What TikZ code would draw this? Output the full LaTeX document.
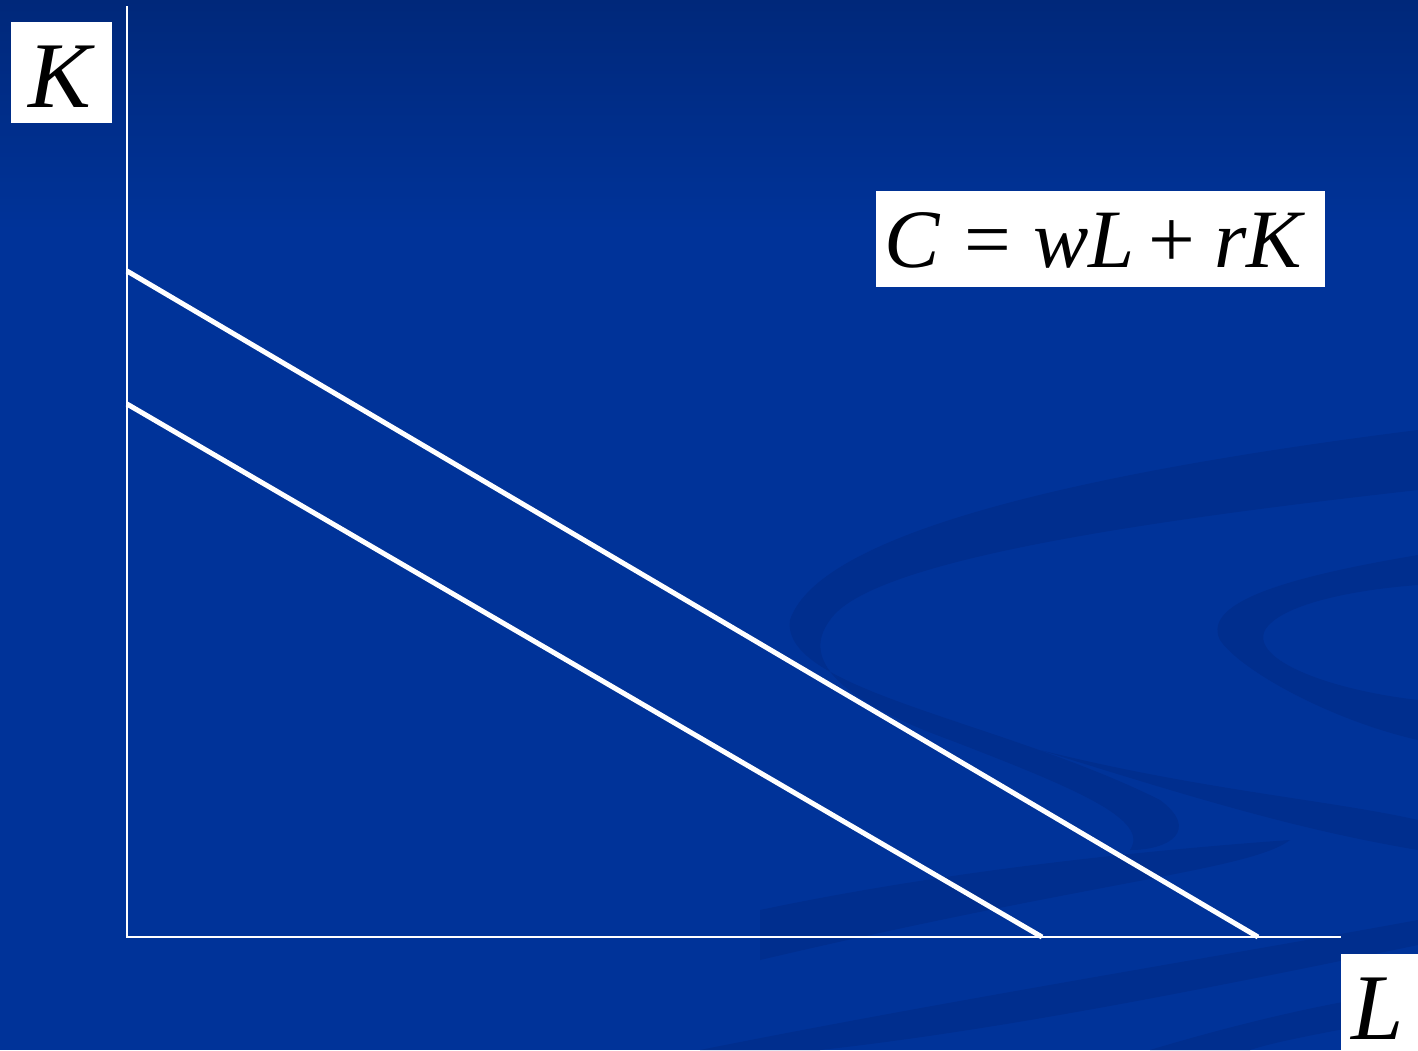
\documentclass[tikz,border=0pt]{standalone}
\usepackage{fontspec}
\setmainfont{Liberation Serif}
\begin{document}
\begin{tikzpicture}[x=1pt,y=-1pt,
  axis/.style={white,line width=2pt},
  budget/.style={white,line width=5pt},
  glyph/.style={text=black,inner sep=0pt,anchor=base west,font=\fontsize{83}{83}\selectfont},
  swirl/.style={fill=swirlblue}]
\definecolor{bgtop}{RGB}{0,40,122}
\definecolor{bgmain}{RGB}{0,51,153}
\definecolor{swirlblue}{RGB}{0,46,142}
% background
\fill[bgmain] (0,0) rectangle (1418,1050);
\shade[top color=bgtop,bottom color=bgmain] (0,0) rectangle (1418,230);
\useasboundingbox (0,0) rectangle (1418,1050);
% faint swirls
\fill[swirl] (1418,430) .. controls (1100,470) and (820,530) .. (790,620)
  .. controls (780,690) and (1000,720) .. (1160,800)
  .. controls (1200,830) and (1170,850) .. (1130,850)
  .. controls (1150,820) and (1080,790) .. (950,740)
  .. controls (840,700) and (800,660) .. (830,620)
  .. controls (870,560) and (1150,520) .. (1418,490) -- cycle;
\fill[swirl] (1418,555) .. controls (1300,575) and (1200,600) .. (1220,640)
  .. controls (1240,670) and (1330,720) .. (1418,740) -- (1418,700)
  .. controls (1330,690) and (1250,660) .. (1265,630)
  .. controls (1280,605) and (1350,590) .. (1418,585) -- cycle;
\fill[swirl] (1040,750) .. controls (1200,790) and (1330,800) .. (1418,820)
  -- (1418,850) .. controls (1300,830) and (1200,800) .. (1040,750) -- cycle;
\fill[swirl] (760,910) .. controls (950,870) and (1150,850) .. (1290,840)
  .. controls (1250,870) and (1100,880) .. (760,960) -- cycle;
\fill[swirl] (700,1050) .. controls (950,1000) and (1200,960) .. (1418,920)
  -- (1418,945) .. controls (1200,990) and (1000,1030) .. (820,1050) -- cycle;
\fill[swirl] (1150,1050) .. controls (1250,1020) and (1340,1000) .. (1418,990)
  -- (1418,1015) .. controls (1340,1030) and (1280,1040) .. (1250,1050) -- cycle;
% axes
\coordinate (O) at (127,937);
\coordinate (Ytop) at (127,6);
\coordinate (Xend) at (1341,937);
\draw[axis] (Ytop) -- (O) -- (Xend);
% budget lines
\coordinate (A1) at (127,271);
\coordinate (B1) at (1258,937);
\coordinate (A2) at (127,404);
\coordinate (B2) at (1042,937);
\draw[budget] (A1) -- (B1);
\draw[budget] (A2) -- (B2);
% K label
\fill[white] (11,22) rectangle (112,123);
\node[text=black,inner sep=0pt,anchor=base,font=\fontsize{94}{94}\selectfont\itshape] (K) at (60,107) {K};
% cost equation
\fill[white] (876,191) rectangle (1325,287);
\node[glyph] (eqC) at (884,267) {\itshape C};
\node[glyph] (eqEq) at (964,267) {=};
\node[glyph] (eqwL) at (1033,267) {\itshape wL};
\node[glyph] (eqPlus) at (1148,267) {+};
\node[glyph] (eqrK) at (1214,267) {\itshape rK};
% L label
\fill[white] (1341,954) rectangle (1418,1050);
\node[text=black,inner sep=0pt,anchor=base,font=\fontsize{94}{94}\selectfont\itshape] (L) at (1378,1039) {L};
\end{tikzpicture}
\end{document}
